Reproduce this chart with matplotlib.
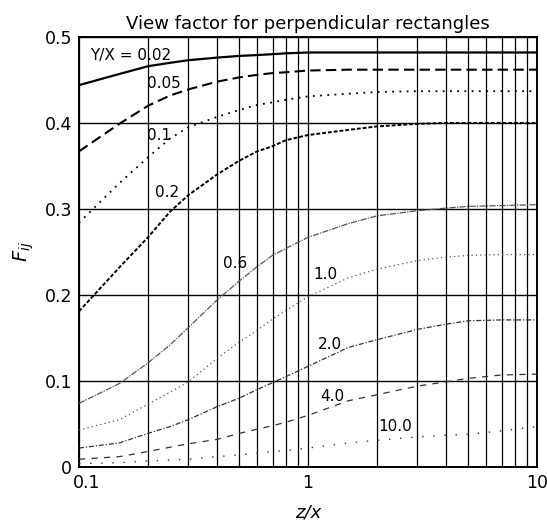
import numpy as np
import matplotlib
matplotlib.use('Agg')
import matplotlib.pyplot as plt
import matplotlib.transforms as mtransforms
from matplotlib.ticker import FixedLocator, LogLocator, NullFormatter

plt.rcParams['font.family'] = ['DejaVu Sans']

# z/x positions where curves were read
z = [0.1, 0.15, 0.2, 0.25, 0.3, 0.4, 0.5, 0.6, 0.7, 0.8, 1.0, 1.5, 2.0, 3.0, 4.0, 5.0, 7.0, 10.0]

# F_ij for each Y/X value
f_002 = [0.444, 0.457, 0.466, 0.470, 0.473, 0.476, 0.478, 0.479, 0.480, 0.481, 0.482, 0.482, 0.482, 0.482, 0.482, 0.482, 0.482, 0.482]
f_005 = [0.367, 0.399, 0.420, 0.432, 0.439, 0.448, 0.453, 0.456, 0.458, 0.459, 0.461, 0.462, 0.462, 0.462, 0.462, 0.462, 0.462, 0.462]
f_01 = [0.284, 0.330, 0.360, 0.382, 0.395, 0.407, 0.415, 0.421, 0.424, 0.427, 0.431, 0.434, 0.436, 0.437, 0.437, 0.437, 0.437, 0.437]
f_02 = [0.181, 0.232, 0.267, 0.297, 0.316, 0.340, 0.356, 0.367, 0.373, 0.380, 0.386, 0.392, 0.396, 0.399, 0.400, 0.400, 0.400, 0.400]
f_06 = [0.074, 0.097, 0.121, 0.142, 0.162, 0.194, 0.216, 0.233, 0.246, 0.254, 0.267, 0.283, 0.292, 0.298, 0.301, 0.303, 0.304, 0.305]
f_10 = [0.043, 0.055, 0.073, 0.087, 0.099, 0.126, 0.145, 0.159, 0.172, 0.182, 0.198, 0.220, 0.230, 0.240, 0.244, 0.246, 0.247, 0.247]
f_20 = [0.022, 0.028, 0.039, 0.047, 0.055, 0.070, 0.080, 0.090, 0.098, 0.105, 0.117, 0.139, 0.148, 0.160, 0.166, 0.170, 0.171, 0.171]
f_40 = [0.009, 0.012, 0.018, 0.023, 0.027, 0.032, 0.039, 0.044, 0.048, 0.052, 0.060, 0.077, 0.084, 0.094, 0.099, 0.103, 0.107, 0.108]
f_100 = [0.004, 0.005, 0.007, 0.008, 0.009, 0.012, 0.014, 0.016, 0.018, 0.019, 0.022, 0.028, 0.031, 0.035, 0.037, 0.038, 0.042, 0.047]

labels = ['Y/X = 0.02', '0.05', '0.1', '0.2', '0.6', '1.0', '2.0', '4.0', '10.0']
label_z = [0.112, 0.198, 0.198, 0.215, 0.425, 1.05, 1.11, 1.13, 2.02]
label_f = [0.479, 0.4465, 0.386, 0.3186, 0.237, 0.2244, 0.143, 0.0814, 0.0465]

fig = plt.figure(figsize=(5.47, 5.24), dpi=100)
ax = fig.add_axes([0.1444, 0.1088, 0.8373, 0.8206])

# curve styles: (data, color, lw, dashes)
curves = [
    (f_002, 'black', 1.6, None),
    (f_005, 'black', 1.5, (5, 2.5)),
    (f_01, 'black', 1.3, (1, 3)),
    (f_02, 'black', 1.4, (2, 1)),
    (f_06, '#555555', 0.9, (5, 1, 1, 1)),
    (f_10, '#555555', 0.9, (1, 2.5)),
    (f_20, '#333333', 0.9, (4, 1.5, 1, 1.5)),
    (f_40, '#333333', 0.9, (5, 5)),
    (f_100, '#333333', 1.0, (1, 7)),
]
for data, col, lw, ds in curves:
    line, = ax.plot(z, data, color=col, lw=lw, zorder=3)
    if ds is not None:
        line.set_dashes(ds)

for txt, lz, lf in zip(labels, label_z, label_f):
    ax.text(lz, lf, txt, fontsize=11, ha='left', va='center', zorder=4)

ax.set_xscale('log')
ax.set_xlim(0.1, 10)
ax.set_ylim(0, 0.5)
ax.xaxis.set_major_locator(FixedLocator([0.1, 1, 10]))
ax.xaxis.set_minor_locator(LogLocator(base=10, subs=np.arange(2, 10)))
ax.xaxis.set_minor_formatter(NullFormatter())
ax.set_xticklabels(['0.1', '1', '10'])
ax.set_yticks([0, 0.1, 0.2, 0.3, 0.4, 0.5])
ax.set_yticklabels(['0', '0.1', '0.2', '0.3', '0.4', '0.5'])
ax.tick_params(which='both', length=0, labelsize=12.5, pad=5)

# nudge "0.1" right so it clears the "0" of the y axis
first = ax.get_xticklabels()[0]
first.set_transform(first.get_transform() +
                    mtransforms.ScaledTranslation(8 / 100, 0, fig.dpi_scale_trans))

ax.grid(True, which='major', axis='y', color='black', lw=1.0)
ax.grid(True, which='both', axis='x', color='black', lw=0.9)
for s in ax.spines.values():
    s.set_linewidth(1.4)

ax.set_title('View factor for perpendicular rectangles', fontsize=13, pad=6)
ax.set_xlabel('z/x', fontsize=13, style='italic', labelpad=8)
ax.set_ylabel(r'$F_{ij}$', fontsize=14, labelpad=6)

fig.savefig('out.png', dpi=100)
